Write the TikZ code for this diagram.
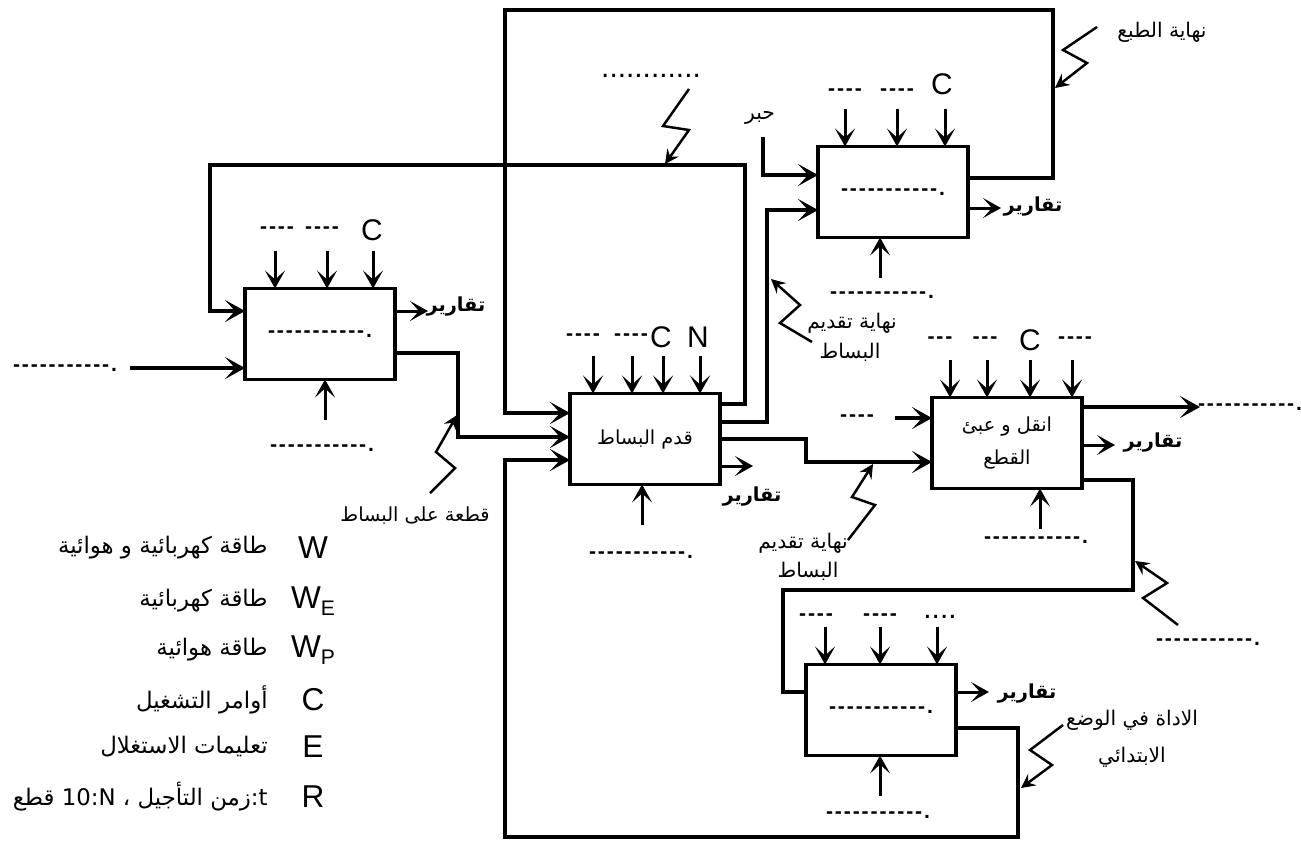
\documentclass[tikz,border=0pt]{standalone}
\usepackage{fontspec}
\setmainfont{Liberation Sans}
\newfontfamily\dashfont{Liberation Sans}[Ligatures=TeXOff,LetterSpace=9]
\newfontfamily\arabicfont[Script=Arabic]{DejaVu Sans}
\TeXXeTstate=1
\usetikzlibrary{arrows.meta}
\newcommand{\ar}[1]{{\arabicfont\beginR #1\endR}}
\newcommand{\dl}[1]{{\dashfont\bfseries\fontsize{12}{12}\selectfont #1}}
\newcommand{\sub}[1]{\raisebox{-0.4ex}{\fontsize{12}{12}\selectfont #1}}
\tikzset{
  box/.style={draw,line width=2pt,minimum width=3cm,minimum height=1.82cm,inner sep=0pt,outer sep=0pt,align=center,font=\fontsize{11}{19}\selectfont},
  flow/.style={line width=2pt,-{Stealth[length=4mm,width=4.4mm,inset=2mm]}},
  ctrl/.style={line width=1.7pt,-{Stealth[length=3.6mm,width=4mm,inset=1.8mm]}},
  bolt/.style={line width=1.4pt,-{Stealth[length=2.8mm,width=2.8mm,inset=1mm]}},
  lbl/.style={inner sep=0pt,font=\fontsize{11.5}{12}\selectfont},
  lat/.style={inner sep=0pt,font=\fontsize{17}{17}\selectfont},
  rep/.style={inner sep=0pt,font=\fontsize{11}{12}\selectfont\bfseries},
  leg/.style={inner sep=0pt,font=\fontsize{13}{14}\selectfont},
  legl/.style={inner sep=0pt,font=\fontsize{18}{18}\selectfont},
}
\begin{document}
\begin{tikzpicture}[x=0.02cm,y=-0.02cm]
\useasboundingbox (0,0) rectangle (1301,843);
% boxes
\node[box] (bA) at (320,334) {\dl{-----------.}};
\node[box] (bB) at (645,439) {\ar{قدم البساط}};
\node[box] (bC) at (893,192) {\dl{-----------.}};
\node[box] (bE) at (1007,443) {\ar{انقل و عبئ}\\\ar{القطع}};
\node[box] (bD) at (881,710) {\dl{-----------.}};
% controls on top, mechanisms below
\foreach \b/\l in {bA/{30,82,128},bB/{23,62,93,130},bC/{27,79,127},bE/{18,55,98,140},bD/{19,74,131}}
  \foreach \x in \l \draw[ctrl] ([shift={(\x,-38)}]\b.north west) -- ([shift={(\x,0)}]\b.north west);
\foreach \b/\x in {bA/80,bB/72,bC/62,bE/108,bD/74}
  \draw[ctrl] ([shift={(\x,40)}]\b.south west) -- ([shift={(\x,0)}]\b.south west);
% reports
\foreach \b/\dy/\lx/\ly[count=\i] in {bA/-23/456/307,bB/27/752/497,bC/16/1033/207,bE/2/1153/443,bD/-18/1027/694}{
  \draw[ctrl] ([shift={(0,\dy)}]\b.east) -- ++(33,0);
  \path (\lx,\ly) node[rep](r\i){\ar{تقارير}};}
% flows between boxes
\coordinate (jA) at (458,400);
\coordinate (jB) at (806,450);
\coordinate (jC) at (767,300);
\coordinate (t1) at (1053,10);  \coordinate (t2) at (505,10);
\coordinate (u1) at (745,165);  \coordinate (u2) at (210,165);
\coordinate (v1) at (1133,590); \coordinate (v2) at (783,590);
\coordinate (w1) at (1018,837); \coordinate (w2) at (505,837);
\coordinate (ink) at (763,137);
\coordinate (in0) at (130,368);
\coordinate (in1) at (895,418);
\coordinate (out) at (1200,407);
\draw[flow] (in0) -- ([shift={(0,34)}]bA.west);
\draw[flow] ([shift={(0,19)}]bA.east) -| (jA) |- ([shift={(0,-2)}]bB.west);
\draw[flow] ([shift={(0,-14)}]bC.east) -| (t1) -| (t2) |- ([shift={(0,-26)}]bB.west);
\draw[flow] ([shift={(0,-35)}]bB.east) -| (u1) -| (u2) |- ([shift={(0,-23)}]bA.west);
\draw[flow] ([shift={(0,-17)}]bB.east) -| (jC) |- ([shift={(0,18)}]bC.west);
\draw[flow] (ink) |- ([shift={(0,-17)}]bC.west);
\draw[flow] (bB.east) -| (jB) |- ([shift={(0,19)}]bE.west);
\draw[flow] (in1) -- ([shift={(0,-25)}]bE.west);
\draw[flow] ([shift={(0,-36)}]bE.east) -- (out);
\draw[line width=2pt] ([shift={(0,37)}]bE.east) -| (v1) -| (v2) |- ([shift={(0,-18)}]bD.west);
\draw[flow] ([shift={(0,18)}]bD.east) -| (w1) -| (w2) |- ([shift={(0,21)}]bB.west);
% events
\draw[bolt] (689,89) -- (663,126) -- (689,130) -- (665,164);
\draw[bolt] (1097,27) -- (1063,50) -- (1087,63) -- (1055,88);
\draw[bolt] (812,342) -- (780,323) -- (800,305) -- (771,279);
\draw[bolt] (848,540) -- (875,505) -- (852,497) -- (873,464);
\draw[bolt] (430,493) -- (455,468) -- (436,452) -- (457,415);
\draw[bolt] (1178,625) -- (1143,598) -- (1167,583) -- (1135,561);
\draw[bolt] (1063,725) -- (1030,750) -- (1052,765) -- (1021,788);
% labels
\foreach \x/\y/\gt[count=\i] in {277/230/----,322/230/----,583/337/----,631/337/----,845/92/----,897/92/----,940/340/---,985/340/---,1075/340/----,816/617/----,880/617/----,857/418/----}
  \path (\x,\y) node[inner sep=0pt](k\i){\dl{\gt}};
\foreach \x/\y in {322/448,641/555,882/295,1036/540,878/815,65/368,1250/407,1208/642}
  \path (\x,\y) node[inner sep=0pt](d\x){\dl{-----------.}};
\foreach \x/\y/\gt[count=\i] in {372/230/C,661/337/C,698/337/N,942/84/C,1030/340/C}
  \path (\x,\y) node[lat](c\i){\gt};
\path (651,76) node[lat](dots){............}
  (940,617) node[lat](dots2){....}
  (760,118) node[lbl](ink-l){\ar{حبر}}
  (1162,32) node[lbl](e1){\ar{نهاية الطبع}}
  (852,323) node[lbl](e2){\ar{نهاية تقديم}}
  (850,352) node[lbl](e3){\ar{البساط}}
  (803,543) node[lbl](e4){\ar{نهاية تقديم}}
  (808,571) node[lbl](e5){\ar{البساط}}
  (415,516) node[lbl,font=\fontsize{11}{12}\selectfont](e6){\ar{قطعة على البساط}}
  (1132,720) node[lbl](e7){\ar{الاداة في الوضع}}
  (1132,757) node[lbl](e8){\ar{الابتدائي}};
% legend
\foreach \y/\s/\gt[count=\i] in {548/W/\ar{طاقة كهربائية و هوائية},601/W\sub{E}/\ar{طاقة كهربائية},650/W\sub{P}/\ar{طاقة هوائية},700/C/\ar{أوامر التشغيل},747/E/\ar{تعليمات الاستغلال},797/R/{\arabicfont قطع 10:N \ar{،} \ar{زمن التأجيل}:t}}{
  \path (313,\y) node[legl](s\i){\s};
  \path (268,\y) node[leg,anchor=east](g\i){\gt};}
\end{tikzpicture}
\end{document}
